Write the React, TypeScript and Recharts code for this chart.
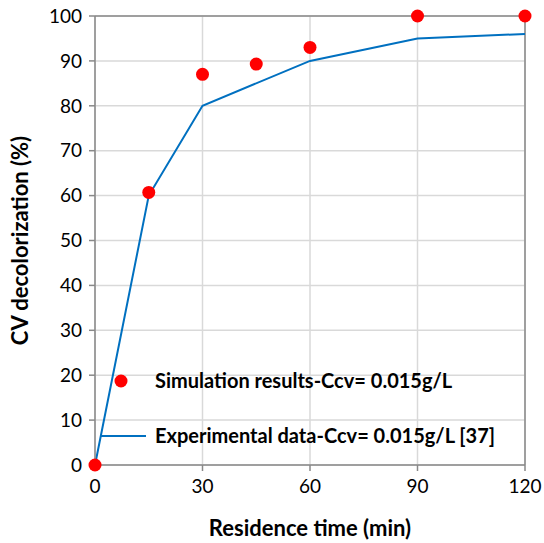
import React from "react";
import {
  ComposedChart,
  Line,
  Scatter,
  XAxis,
  YAxis,
  CartesianGrid,
  ReferenceLine,
} from "recharts";

const simTimes = [0, 15, 30, 45, 60, 90, 120];
const simValues = [0, 60.7, 87, 89.3, 93, 100, 100];
const expTimes = [0, 15, 30, 60, 90, 120];
const expValues = [0, 60, 80, 90, 95, 96];
const xTicks = [0, 30, 60, 90, 120];
const yTicks = [0, 10, 20, 30, 40, 50, 60, 70, 80, 90, 100];

const simData = simTimes.map((t, i) => ({ t, v: simValues[i] }));
const expData = expTimes.map((t, i) => ({ t, v: expValues[i] }));

const FONT = "Lato, 'DejaVu Sans', sans-serif";
const AXIS = "#898989";

const Dot = (props: any) => {
  const { cx, cy } = props;
  return <circle cx={cx} cy={cy} r={6.5} fill="#ff0000" />;
};

const LegendBox = () => (
  <svg
    width={430}
    height={90}
    style={{ position: "absolute", left: 95, top: 362 }}
  >
    <circle cx={26} cy={19} r={6.5} fill="#ff0000" />
    <text x={60} y={26} fontFamily={FONT} fontWeight="bold" fontSize={20} fill="#000">
      Simulation results-Ccv= 0.015g/L
    </text>
    <line x1={6} y1={74} x2={51} y2={74} stroke="#0070c0" strokeWidth={2} />
    <text x={60} y={81} fontFamily={FONT} fontWeight="bold" fontSize={20} fill="#000">
      Experimental data-Ccv= 0.015g/L [37]
    </text>
  </svg>
);

export default function App() {
  return (
    <div style={{ position: "absolute", left: 0, top: 0, width: 544, height: 543, background: "#fff" }}>
      <ComposedChart
        width={544}
        height={543}
        margin={{ top: 16, right: 19, bottom: 0, left: 0 }}
      >
        <CartesianGrid stroke="#d9d9d9" strokeWidth={1.5} />
        <XAxis
          type="number"
          dataKey="t"
          domain={[0, 120]}
          ticks={xTicks}
          height={78}
          stroke={AXIS}
          strokeWidth={1.5}
          tickSize={6}
          tick={{ fill: "#000", fontSize: 19, fontFamily: FONT }}
          tickMargin={9}
          label={{
            value: "Residence time (min)",
            position: "insideBottom",
            offset: 7,
            fill: "#000",
            fontSize: 22,
            fontWeight: "bold",
            fontFamily: FONT,
          }}
        />
        <YAxis
          type="number"
          domain={[0, 100]}
          ticks={yTicks}
          width={95}
          stroke={AXIS}
          strokeWidth={1.5}
          tickSize={6}
          tick={{ fill: "#000", fontSize: 19, fontFamily: FONT }}
          tickMargin={7}
          label={{
            value: "CV decolorization (%)",
            angle: -90,
            position: "insideLeft",
            offset: 20,
            style: { textAnchor: "middle" },
            fill: "#000",
            fontSize: 22,
            fontWeight: "bold",
            fontFamily: FONT,
          }}
        />
        <ReferenceLine y={100} stroke={AXIS} strokeWidth={1.5} />
        <ReferenceLine x={120} stroke={AXIS} strokeWidth={1.5} />
        <Line
          data={expData}
          dataKey="v"
          type="linear"
          stroke="#0070c0"
          strokeWidth={2}
          dot={false}
          isAnimationActive={false}
        />
        <Scatter
          data={simData}
          dataKey="v"
          shape={Dot}
          isAnimationActive={false}
        />
      </ComposedChart>
      <LegendBox />
    </div>
  );
}
